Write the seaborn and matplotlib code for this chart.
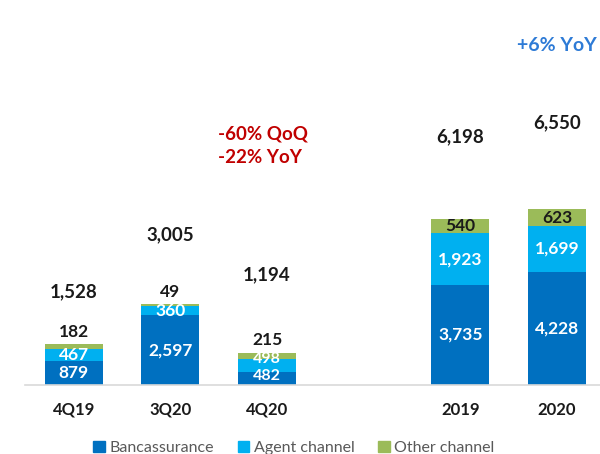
import matplotlib as mpl

mpl.use("Agg")

import matplotlib.pyplot as plt
import pandas as pd
import seaborn as sns
from matplotlib.patches import Patch

sns.set_theme(style="white")
plt.rcParams["font.family"] = ["Lato", "DejaVu Sans"]

# ---- data ----
PERIODS = ["4Q19", "3Q20", "4Q20", "2019", "2020"]
BANCASSURANCE = [879, 2597, 482, 3735, 4228]
AGENT = [467, 360, 498, 1923, 1699]
OTHER = [182, 49, 215, 540, 623]
TOTALS = [1528, 3005, 1194, 6198, 6550]
SPACER = " "  # empty slot between quarters and full years
ORDER = PERIODS[:3] + [SPACER] + PERIODS[3:]

# heights (data units) where the totals are printed
TOTAL_LABEL_Y = [3470, 5600, 4100, 9250, 9800]

C_BANC = "#0070C0"
C_AGENT = "#00B0F0"
C_OTHER = "#9BBB59"

df = pd.DataFrame({
    "period": PERIODS,
    "banc": BANCASSURANCE,
    "agent": AGENT,
    "other": OTHER,
})
df["banc_agent"] = df["banc"] + df["agent"]
df["total"] = df["banc_agent"] + df["other"]

fig = plt.figure(figsize=(6.0, 4.54), dpi=100)
ax = fig.add_axes([25 / 600, 1 - 385 / 454, 575 / 600, 385 / 454])

# stacked bars drawn as overlapping cumulative bars
for col, color in [("total", C_OTHER), ("banc_agent", C_AGENT), ("banc", C_BANC)]:
    sns.barplot(data=df, x="period", y=col, order=ORDER, color=color,
                width=0.6, linewidth=0, saturation=1, ax=ax)

ax.set_xlim(-0.505, 5.445)
ax.set_ylim(0, 14365)
ax.set_xlabel("")
ax.set_ylabel("")
ax.set_yticks([])
ax.set_xticks(range(len(ORDER)))
ax.set_xticklabels(ORDER, fontsize=12, fontweight="bold", color="#1a1a1a")
ax.tick_params(axis="x", length=0, pad=12)
for side in ["top", "left", "right"]:
    ax.spines[side].set_visible(False)
ax.spines["bottom"].set_color("#D9D9D9")
ax.spines["bottom"].set_linewidth(1.2)

xpos = {p: ORDER.index(p) for p in PERIODS}
for i, row in df.iterrows():
    x = xpos[row["period"]]
    small = row["banc"] < 600  # thin segments: lift the labels a touch
    fs = 11.5 if small else 12.5
    ax.annotate(f"{row['banc']:,}", (x, row["banc"] / 2),
                xytext=(0, 2 if small else 0), textcoords="offset points",
                ha="center", va="center", color="white", fontsize=fs,
                fontweight="bold")
    ax.annotate(f"{row['agent']:,}", (x, row["banc"] + row["agent"] / 2),
                xytext=(0, 4.5 if small else 0), textcoords="offset points",
                ha="center", va="center", color="white", fontsize=fs,
                fontweight="bold")
    if i < 3:
        ax.annotate(f"{row['other']:,}", (x, row["total"]), xytext=(0, 9),
                    textcoords="offset points", ha="center", va="center",
                    color="#1a1a1a", fontsize=12.5, fontweight="bold")
    else:
        ax.text(x, row["banc_agent"] + row["other"] / 2, f"{row['other']:,}",
                ha="center", va="center", color="#1a1a1a", fontsize=12.5,
                fontweight="bold")
    ax.text(x, TOTAL_LABEL_Y[i], f"{TOTALS[i]:,}", ha="center", va="center",
            color="#1a1a1a", fontsize=13.5, fontweight="bold")

ax.text(1.494, 9366, "-60% QoQ", ha="left", va="center", color="#C00000",
        fontsize=13.5, fontweight="bold")
ax.text(1.494, 8507, "-22% YoY", ha="left", va="center", color="#C00000",
        fontsize=13.5, fontweight="bold")
ax.text(xpos["2020"], 12650, "+6% YoY", ha="center", va="center", color="#2E7BD6",
        fontsize=14, fontweight="bold")

handles = [Patch(color=C_BANC, label="Bancassurance"),
           Patch(color=C_AGENT, label="Agent channel"),
           Patch(color=C_OTHER, label="Other channel")]
fig.legend(handles=handles, loc="center", bbox_to_anchor=(0.49, 1 - 448 / 454),
           ncol=3, frameon=False, fontsize=11.5, handlelength=0.7,
           handleheight=0.7, handletextpad=0.3, columnspacing=1.5,
           labelcolor="#595959")

fig.savefig("out.png", dpi=100)
